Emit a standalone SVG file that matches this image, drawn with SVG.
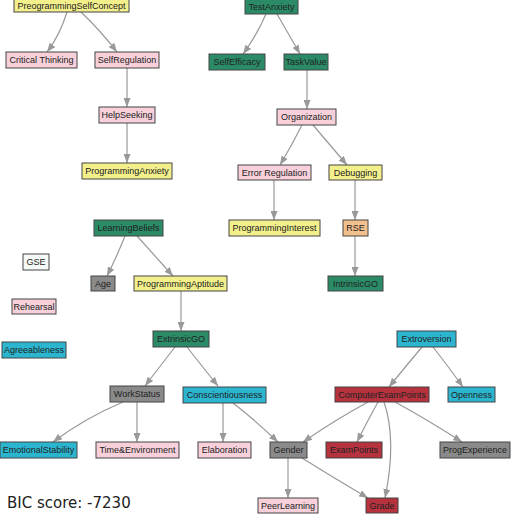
<svg xmlns="http://www.w3.org/2000/svg" width="517" height="524" viewBox="0 0 517 524">
<style>
.n rect{stroke:#444;stroke-width:1}
.n text{font-family:"Liberation Sans",Arial,sans-serif;font-size:9px;fill:#222;text-anchor:middle}
.y rect{fill:#f3f08c}
.p rect{fill:#f7d0da}
.g rect{fill:#2a8b66}
.k rect{fill:#8a8a8a}
.c rect{fill:#2bb5cf}
.r rect{fill:#b5323e}
.o rect{fill:#f2c08e}
.w rect{fill:#f6faf6}
#edges path{fill:none;stroke:#999;stroke-width:1.2;marker-end:url(#ah)}
.bic{font-family:"DejaVu Sans",sans-serif;font-size:15px;fill:#222}
</style>
<defs>
<marker id="ah" markerUnits="userSpaceOnUse" markerWidth="10" markerHeight="7" refX="9" refY="3.5" orient="auto">
<path d="M0,0 L9,3.5 L0,7 z" fill="#999"/>
</marker>
</defs>
<rect x="0" y="0" width="517" height="524" fill="#fff"/>
<g id="edges">
<path d="M67,12 Q60,35 47,52"/>
<path d="M81,12 Q100,30 117,52"/>
<path d="M127,68 L127,107"/>
<path d="M127,123 L127,163"/>
<path d="M266,14 Q257,35 243,54"/>
<path d="M277,14 Q288,33 300,54"/>
<path d="M307,70 L307,109"/>
<path d="M302,125 Q292,145 280,165"/>
<path d="M313,125 Q330,145 347,165"/>
<path d="M274,180 L274,220"/>
<path d="M355,180 L355,220"/>
<path d="M355,236 L355,276"/>
<path d="M125,236 Q117,256 107,276"/>
<path d="M137,236 Q155,256 173,276"/>
<path d="M181,291 L181,331"/>
<path d="M175,347 Q161,365 145,386"/>
<path d="M187,347 Q201,365 218,386"/>
<path d="M123,402 Q85,418 53,442"/>
<path d="M137,402 L137,442"/>
<path d="M223,403 L223,442"/>
<path d="M233,403 Q255,420 278,442"/>
<path d="M422,347 Q406,366 389,387"/>
<path d="M433,347 Q448,366 463,387"/>
<path d="M368,402 Q335,420 303,442"/>
<path d="M378,402 Q368,420 357,442"/>
<path d="M384,402 Q397,440 385,498"/>
<path d="M395,402 Q428,420 462,442"/>
<path d="M288,458 L288,498"/>
<path d="M302,458 Q334,478 368,498"/>
</g>
<g id="PreogrammingSelfConcept" class="n y"><rect x="14" y="-1" width="115" height="13"/><text x="71.5" y="9">PreogrammingSelfConcept</text></g>
<g id="CriticalThinking" class="n p"><rect x="6" y="52" width="71" height="16"/><text x="41.5" y="63">Critical Thinking</text></g>
<g id="SelfRegulation" class="n p"><rect x="95" y="52" width="64" height="16"/><text x="127" y="63">SelfRegulation</text></g>
<g id="HelpSeeking" class="n p"><rect x="99" y="107" width="56" height="16"/><text x="127" y="118">HelpSeeking</text></g>
<g id="ProgrammingAnxiety" class="n y"><rect x="82" y="163" width="90" height="16"/><text x="127" y="174">ProgrammingAnxiety</text></g>
<g id="TestAnxiety" class="n g"><rect x="245" y="-1" width="53" height="15"/><text x="271.5" y="10">TestAnxiety</text></g>
<g id="SelfEfficacy" class="n g"><rect x="209" y="54" width="56" height="16"/><text x="237" y="65">SelfEfficacy</text></g>
<g id="TaskValue" class="n g"><rect x="284" y="54" width="44" height="16"/><text x="306" y="65">TaskValue</text></g>
<g id="Organization" class="n p"><rect x="277" y="109" width="59" height="16"/><text x="306.5" y="120">Organization</text></g>
<g id="ErrorRegulation" class="n p"><rect x="238" y="165" width="73" height="15"/><text x="274.5" y="176">Error Regulation</text></g>
<g id="Debugging" class="n y"><rect x="329" y="165" width="53" height="15"/><text x="355.5" y="176">Debugging</text></g>
<g id="ProgrammingInterest" class="n y"><rect x="229" y="220" width="91" height="16"/><text x="274.5" y="231">ProgrammingInterest</text></g>
<g id="RSE" class="n o"><rect x="343" y="220" width="25" height="16"/><text x="355.5" y="231">RSE</text></g>
<g id="IntrinsicGO" class="n g"><rect x="328" y="276" width="55" height="15"/><text x="355.5" y="287">IntrinsicGO</text></g>
<g id="LearningBeliefs" class="n g"><rect x="94" y="220" width="69" height="16"/><text x="128.5" y="231">LearningBeliefs</text></g>
<g id="GSE" class="n w"><rect x="23" y="254" width="26" height="16"/><text x="36" y="265">GSE</text></g>
<g id="Age" class="n k"><rect x="91" y="276" width="24" height="15"/><text x="103" y="287">Age</text></g>
<g id="ProgrammingAptitude" class="n y"><rect x="134" y="276" width="93" height="15"/><text x="180.5" y="287">ProgrammingAptitude</text></g>
<g id="Rehearsal" class="n p"><rect x="12" y="299" width="44" height="15"/><text x="34" y="310">Rehearsal</text></g>
<g id="Agreeableness" class="n c"><rect x="2" y="342" width="64" height="16"/><text x="34" y="353">Agreeableness</text></g>
<g id="ExtrinsicGO" class="n g"><rect x="153" y="331" width="56" height="16"/><text x="181" y="342">ExtrinsicGO</text></g>
<g id="WorkStatus" class="n k"><rect x="110" y="386" width="54" height="16"/><text x="137" y="397">WorkStatus</text></g>
<g id="Conscientiousness" class="n c"><rect x="183" y="387" width="83" height="16"/><text x="224.5" y="398">Conscientiousness</text></g>
<g id="EmotionalStability" class="n c"><rect x="0" y="442" width="77" height="16"/><text x="38.5" y="453">EmotionalStability</text></g>
<g id="TimeEnvironment" class="n p"><rect x="96" y="442" width="83" height="16"/><text x="137.5" y="453">Time&amp;Environment</text></g>
<g id="Elaboration" class="n p"><rect x="198" y="442" width="53" height="16"/><text x="224.5" y="453">Elaboration</text></g>
<g id="Gender" class="n k"><rect x="270" y="442" width="37" height="16"/><text x="288.5" y="453">Gender</text></g>
<g id="ExamPoints" class="n r"><rect x="326" y="442" width="56" height="16"/><text x="354" y="453">ExamPoints</text></g>
<g id="ProgExperience" class="n k"><rect x="440" y="442" width="70" height="16"/><text x="475" y="453">ProgExperience</text></g>
<g id="Extroversion" class="n c"><rect x="397" y="331" width="59" height="16"/><text x="426.5" y="342">Extroversion</text></g>
<g id="ComputerExamPoints" class="n r"><rect x="335" y="387" width="94" height="15"/><text x="382" y="398">ComputerExamPoints</text></g>
<g id="Openness" class="n c"><rect x="448" y="387" width="47" height="15"/><text x="471.5" y="398">Openness</text></g>
<g id="PeerLearning" class="n p"><rect x="258" y="498" width="60" height="15"/><text x="288" y="509">PeerLearning</text></g>
<g id="Grade" class="n r"><rect x="366" y="498" width="32" height="15"/><text x="382" y="509">Grade</text></g>
<text class="bic" x="7" y="508">BIC score: -7230</text>
</svg>
